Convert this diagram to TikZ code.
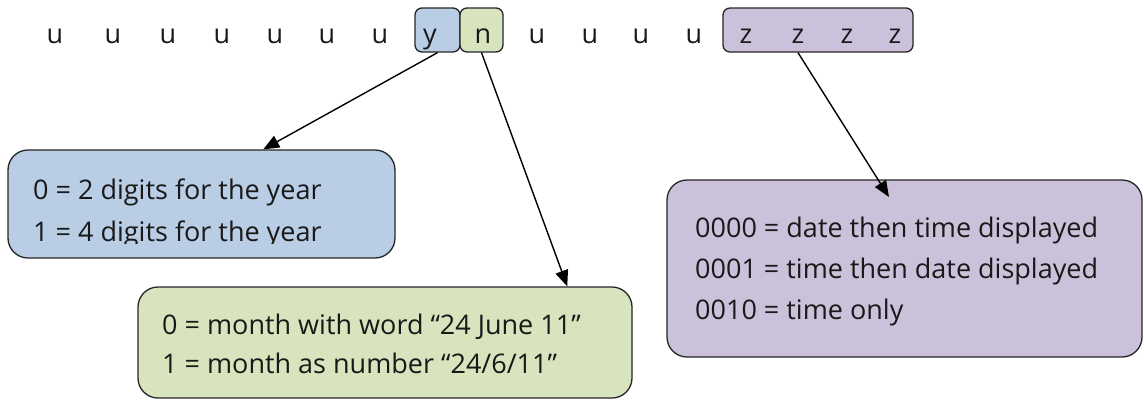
\documentclass[tikz,border=0pt]{standalone}
\usepackage{fontspec}
\setmainfont{Open Sans}
\usetikzlibrary{arrows.meta,calc}
\definecolor{bluefill}{HTML}{B9CDE5}
\definecolor{greenfill}{HTML}{D7E4BD}
\definecolor{purplefill}{HTML}{CCC1DA}
\begin{document}
\begin{tikzpicture}[x=1pt,y=-1pt,
  every node/.style={font=\fontsize{27}{32}\selectfont, inner sep=0pt, text=black!90},
  letter/.style={anchor=base},
  bitbox/.style={draw=black!85, line width=1.3pt, rounded corners=7pt},
  infobox/.style={draw=black!85, line width=1.3pt, rounded corners=20pt},
  txt/.style={anchor=base west},
  arr/.style={line width=1.4pt, -{Triangle[length=16pt,width=13pt]}}
]
\useasboundingbox (0,0) rectangle (1144,400);

% bit boxes
\node[bitbox, fill=bluefill, minimum width=45pt, minimum height=44pt] (ybox) at (437.5,30) {};
\node[bitbox, fill=greenfill, minimum width=43pt, minimum height=44pt] (nbox) at (481.5,30) {};
\node[bitbox, fill=purplefill, minimum width=190pt, minimum height=44pt] (zbox) at (818,30) {};

% letters
\node[letter] (u1) at (55,43) {u};
\node[letter] (u2) at (113,43) {u};
\node[letter] (u3) at (168,43) {u};
\node[letter] (u4) at (222,43) {u};
\node[letter] (u5) at (275,43) {u};
\node[letter] (u6) at (327,43) {u};
\node[letter] (u7) at (380,43) {u};
\node[letter] (yl) at (430,43) {y};
\node[letter] (nl) at (483,43) {n};
\node[letter] (u8) at (537,43) {u};
\node[letter] (u9) at (590,43) {u};
\node[letter] (u10) at (641,43) {u};
\node[letter] (u11) at (694,43) {u};
\node[letter] (z1) at (746,43) {z};
\node[letter] (z2) at (798,43) {z};
\node[letter] (z3) at (847,43) {z};
\node[letter] (z4) at (895,43) {z};

% info boxes
\node[infobox, fill=bluefill, minimum width=387pt, minimum height=108pt] (blue) at (201.5,204) {};
\node[infobox, fill=greenfill, minimum width=494pt, minimum height=111pt] (green) at (385,342.5) {};
\node[infobox, fill=purplefill, minimum width=475pt, minimum height=177pt] (purple) at (904.5,268.5) {};

\begin{scope}
\clip (8,150) rectangle (395,243);
\node[txt] (b1) at (33,199) {0 = 2 digits for the year};
\node[txt] (b2) at (33,241) {1 = 4 digits for the year};
\end{scope}

\node[txt] (g1) at (162,334) {0 = month with word “24 June 11”};
\node[txt] (g2) at (162,373) {1 = month as number “24/6/11”};

\node[txt] (p1) at (695,237) {0000 = date then time displayed};
\node[txt] (p2) at (695,278) {0001 = time then date displayed};
\node[txt] (p3) at (695,319) {0010 = time only};

\coordinate (ptip) at (889,197);

% connectors
\draw[arr] (ybox.south) -- ($(blue.north west)!0.659!(blue.north east)$);
\draw[arr] (nbox.south) -- ($(green.north west)!0.868!(green.north east)$);
\draw[arr] (z2 |- zbox.south) -- (ptip);
\end{tikzpicture}
\end{document}
